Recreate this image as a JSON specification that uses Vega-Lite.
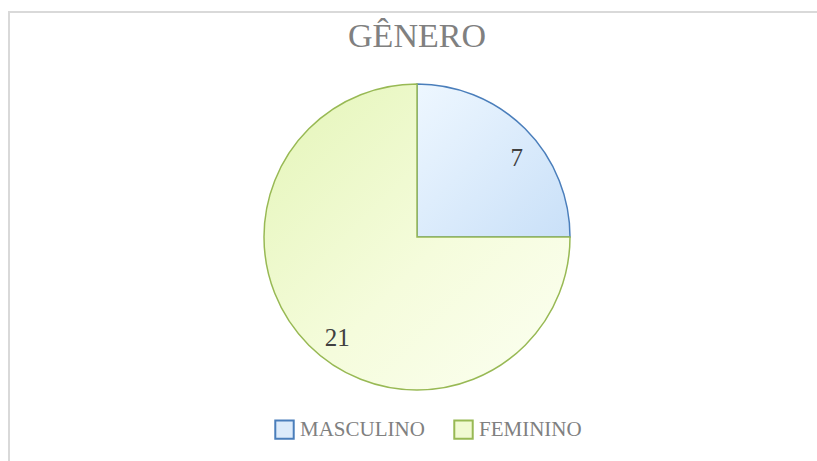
{
  "$schema": "https://vega.github.io/schema/vega-lite/v6.json",
  "width": 816,
  "height": 450,
  "autosize": {"type": "none"},
  "padding": {"left": 9, "top": 12, "right": -8, "bottom": -1},
  "background": "white",
  "view": {"stroke": "#d9d9d9", "strokeWidth": 2, "strokeDash": [816, 1266, 450]},
  "title": {"text": "GÊNERO", "font": "Liberation Serif", "fontSize": 34, "fontWeight": "normal", "color": "#808080", "anchor": "middle", "offset": -69, "baseline": "alphabetic"},
  "data": {"values": [
    {"genero": "MASCULINO", "valor": 7},
    {"genero": "FEMININO", "valor": 21}
  ]},
  "encoding": {
    "theta": {"field": "valor", "type": "quantitative", "stack": true},
    "order": {"field": "genero", "sort": "descending"}
  },
  "layer": [
    {
      "mark": {"type": "arc", "outerRadius": 153, "strokeWidth": 1.5},
      "encoding": {
        "fill": {
          "condition": {
            "test": "datum.genero === 'MASCULINO'",
            "value": {"gradient": "linear", "x1": 0, "y1": 0, "x2": 1, "y2": 1, "stops": [{"offset": 0, "color": "#eef7ff"}, {"offset": 1, "color": "#c9e0f8"}]}
          },
          "value": {"gradient": "linear", "x1": 0, "y1": 0, "x2": 1, "y2": 1, "stops": [{"offset": 0, "color": "#e4f5b8"}, {"offset": 0.55, "color": "#f5fcdc"}, {"offset": 1, "color": "#fcfff2"}]}
        },
        "stroke": {"field": "genero", "type": "nominal", "scale": {"domain": ["MASCULINO", "FEMININO"], "range": ["#4a7ebb", "#98b954"]}}
      }
    },
    {
      "mark": {"type": "text", "radius": 127, "dx": 10, "dy": 11, "font": "Liberation Serif", "fontSize": 25, "color": "#404040"},
      "encoding": {"text": {"field": "valor", "type": "quantitative"}}
    },
    {
      "mark": {"type": "text", "radius": 0, "fontSize": 1},
      "encoding": {
        "text": {"value": ""},
        "color": {"field": "genero", "type": "nominal", "scale": {"domain": ["MASCULINO", "FEMININO"], "range": ["#dcebfb", "#f1fad2"]}}
      }
    }
  ],
  "config": {
    "legend": {
      "orient": "none",
      "legendX": 265,
      "legendY": 407,
      "direction": "horizontal",
      "title": null,
      "padding": 0,
      "symbolType": "square",
      "symbolSize": 340,
      "symbolStrokeWidth": 2,
      "labelFont": "Liberation Serif",
      "labelFontSize": 21,
      "labelColor": "#808080",
      "labelOffset": 5,
      "columnPadding": 25,
      "labelLimit": 300
    }
  }
}
